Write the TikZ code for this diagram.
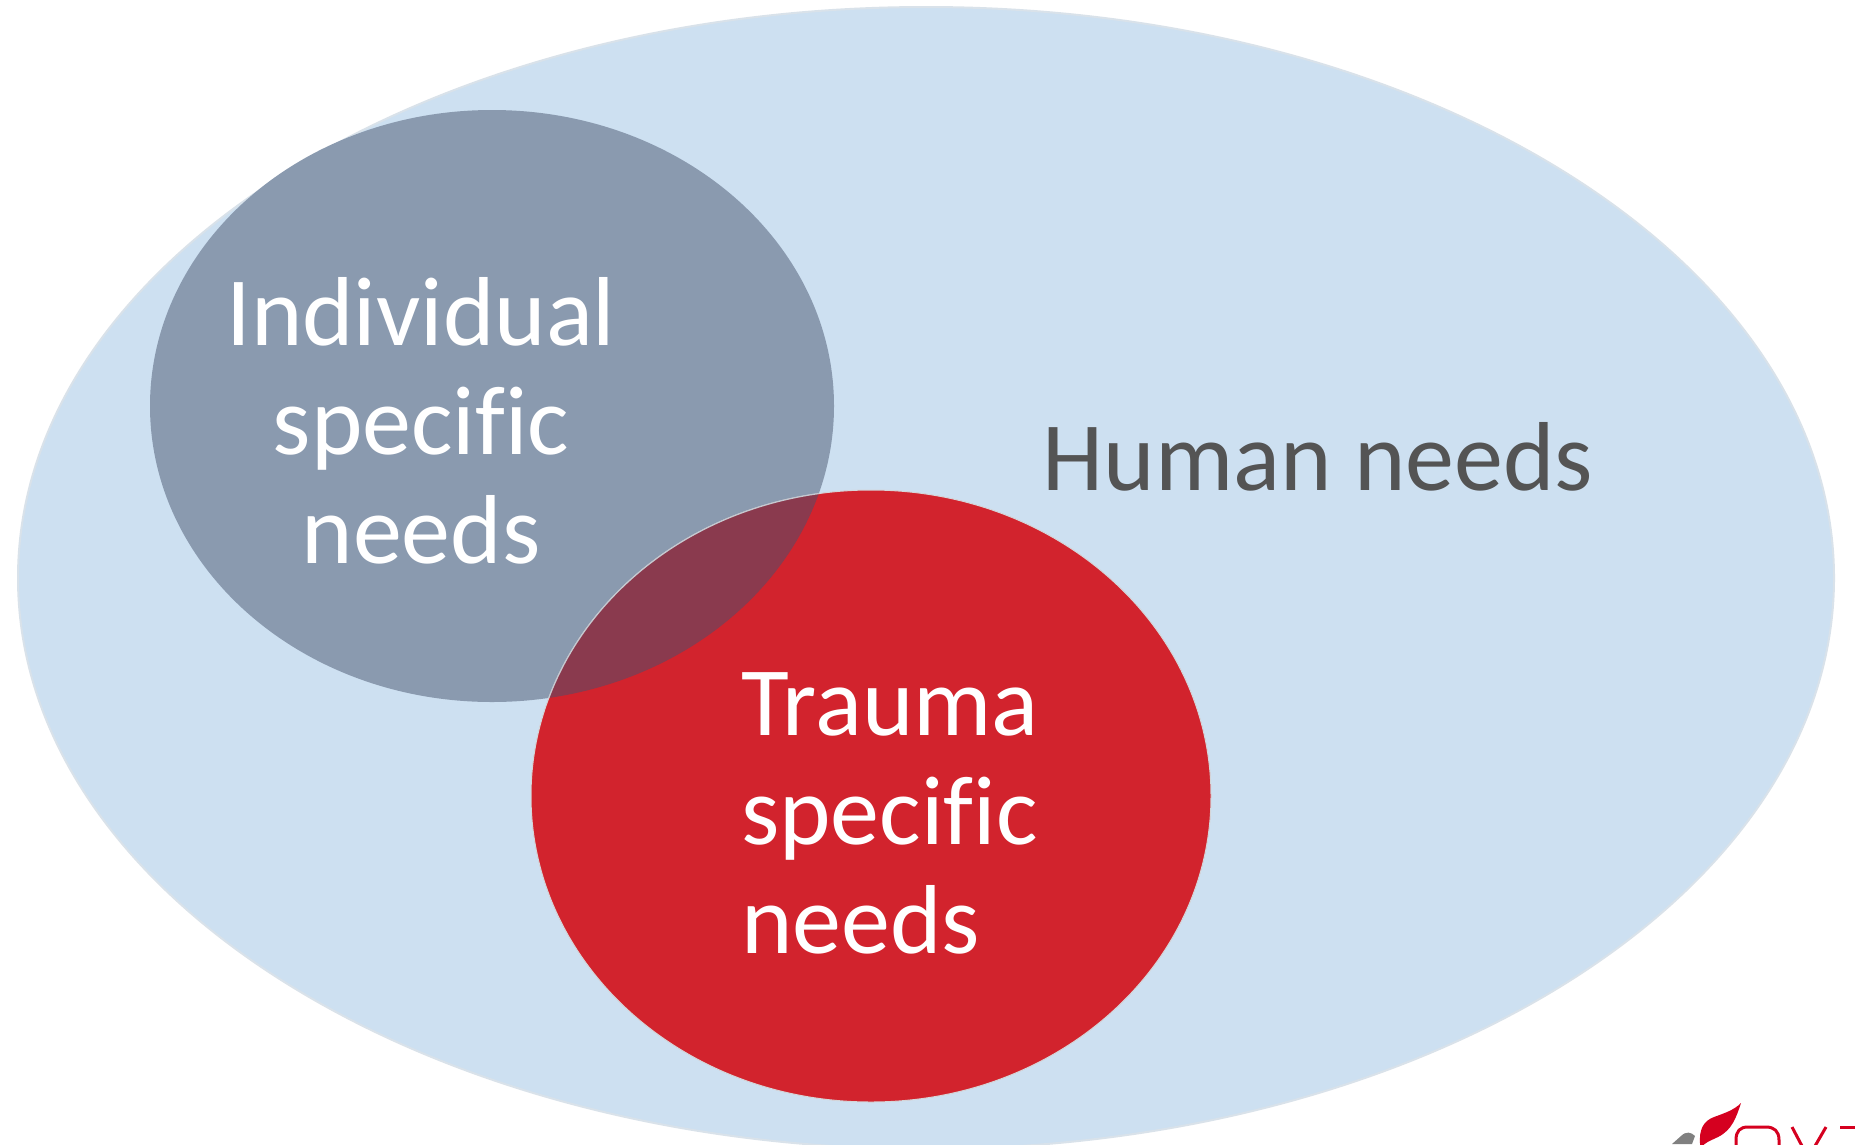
\documentclass[tikz,border=0pt]{standalone}
\usepackage{fontspec}
\setmainfont[Ligatures=NoCommon]{Carlito}
\definecolor{bigblue}{HTML}{CDE0F1}
\definecolor{bigedge}{HTML}{D9E2EA}
\definecolor{slate}{HTML}{8A9AAF}
\definecolor{crimson}{HTML}{D2232D}
\definecolor{overlapc}{HTML}{8A3A4E}
\definecolor{softedge}{HTML}{D5D5D8}
\definecolor{logored}{HTML}{D5001F}
\definecolor{logogrey}{HTML}{808080}
\tikzset{
  labelw/.style={text=white,font=\fontsize{98}{109}\selectfont,inner sep=0pt},
  labeld/.style={text=black!67,font=\fontsize{98}{109}\selectfont,align=center,inner sep=0pt},
}
\begin{document}
\begin{tikzpicture}[x=1pt,y=-1pt,line join=round]
\useasboundingbox (0,0) rectangle (1855,1144);
\begin{scope}
\clip (0,0) rectangle (1855,1144);
\fill[white] (0,0) rectangle (1855,1144);
% top-left cropped marks
\fill[crimson] (14,-1) arc[x radius=5,y radius=3.5,start angle=180,end angle=360] -- cycle;
\fill[crimson] (188,-1) arc[x radius=12,y radius=3.5,start angle=180,end angle=360] -- cycle;
% ellipses
\fill[bigblue] (926,578) ellipse[x radius=908,y radius=571];
\draw[bigedge,line width=2pt] (926,578) ellipse[x radius=908,y radius=571];
\fill[slate] (492,406) ellipse[x radius=342,y radius=296];
\fill[crimson] (871,796) ellipse[x radius=340,y radius=306];
\draw[softedge,line width=1pt] (871,796) ellipse[x radius=340,y radius=306];
\begin{scope}
\clip (492,406) ellipse[x radius=342,y radius=296];
\fill[overlapc] (871,796) ellipse[x radius=340,y radius=306];
\draw[softedge!80!slate,line width=1.2pt] (871,796) ellipse[x radius=340,y radius=306];
\end{scope}
% logo fragments
\fill[logored] (1741,1103) .. controls (1736,1118) and (1732,1130) .. (1718,1137) .. controls (1710,1141) and (1705,1142) .. (1701,1148) -- (1700,1144) .. controls (1699,1130) and (1703,1121) .. (1714,1117) .. controls (1725,1113) and (1734,1110) .. (1741,1103) -- cycle;
\fill[logogrey] (1672,1144) -- (1681,1136) .. controls (1686,1131) and (1691,1132) .. (1695,1136) -- (1692,1144) -- cycle;
\draw[logored,line width=3pt] (1736,1146) -- (1736,1140) .. controls (1736,1131) and (1740,1127) .. (1748,1127) -- (1766,1127) .. controls (1774,1127) and (1779,1131) .. (1779,1140) -- (1779,1146);
\draw[logored,line width=3pt] (1792,1127) -- (1802,1146);
\draw[logored,line width=3pt] (1840,1127) -- (1855,1127);
\draw[logored,line width=3pt] (1826,1127) -- (1815,1146);
\end{scope}
% labels
\node[labeld,anchor=base] (human) at (1318,490) {Human needs};
\node[labelw,align=center] (indiv) at (421,421) {Individual\\specific\\needs};
\node[labelw,align=left,anchor=west] (trauma) at (741,813) {Trauma\\specific\\needs};
\end{tikzpicture}
\end{document}
